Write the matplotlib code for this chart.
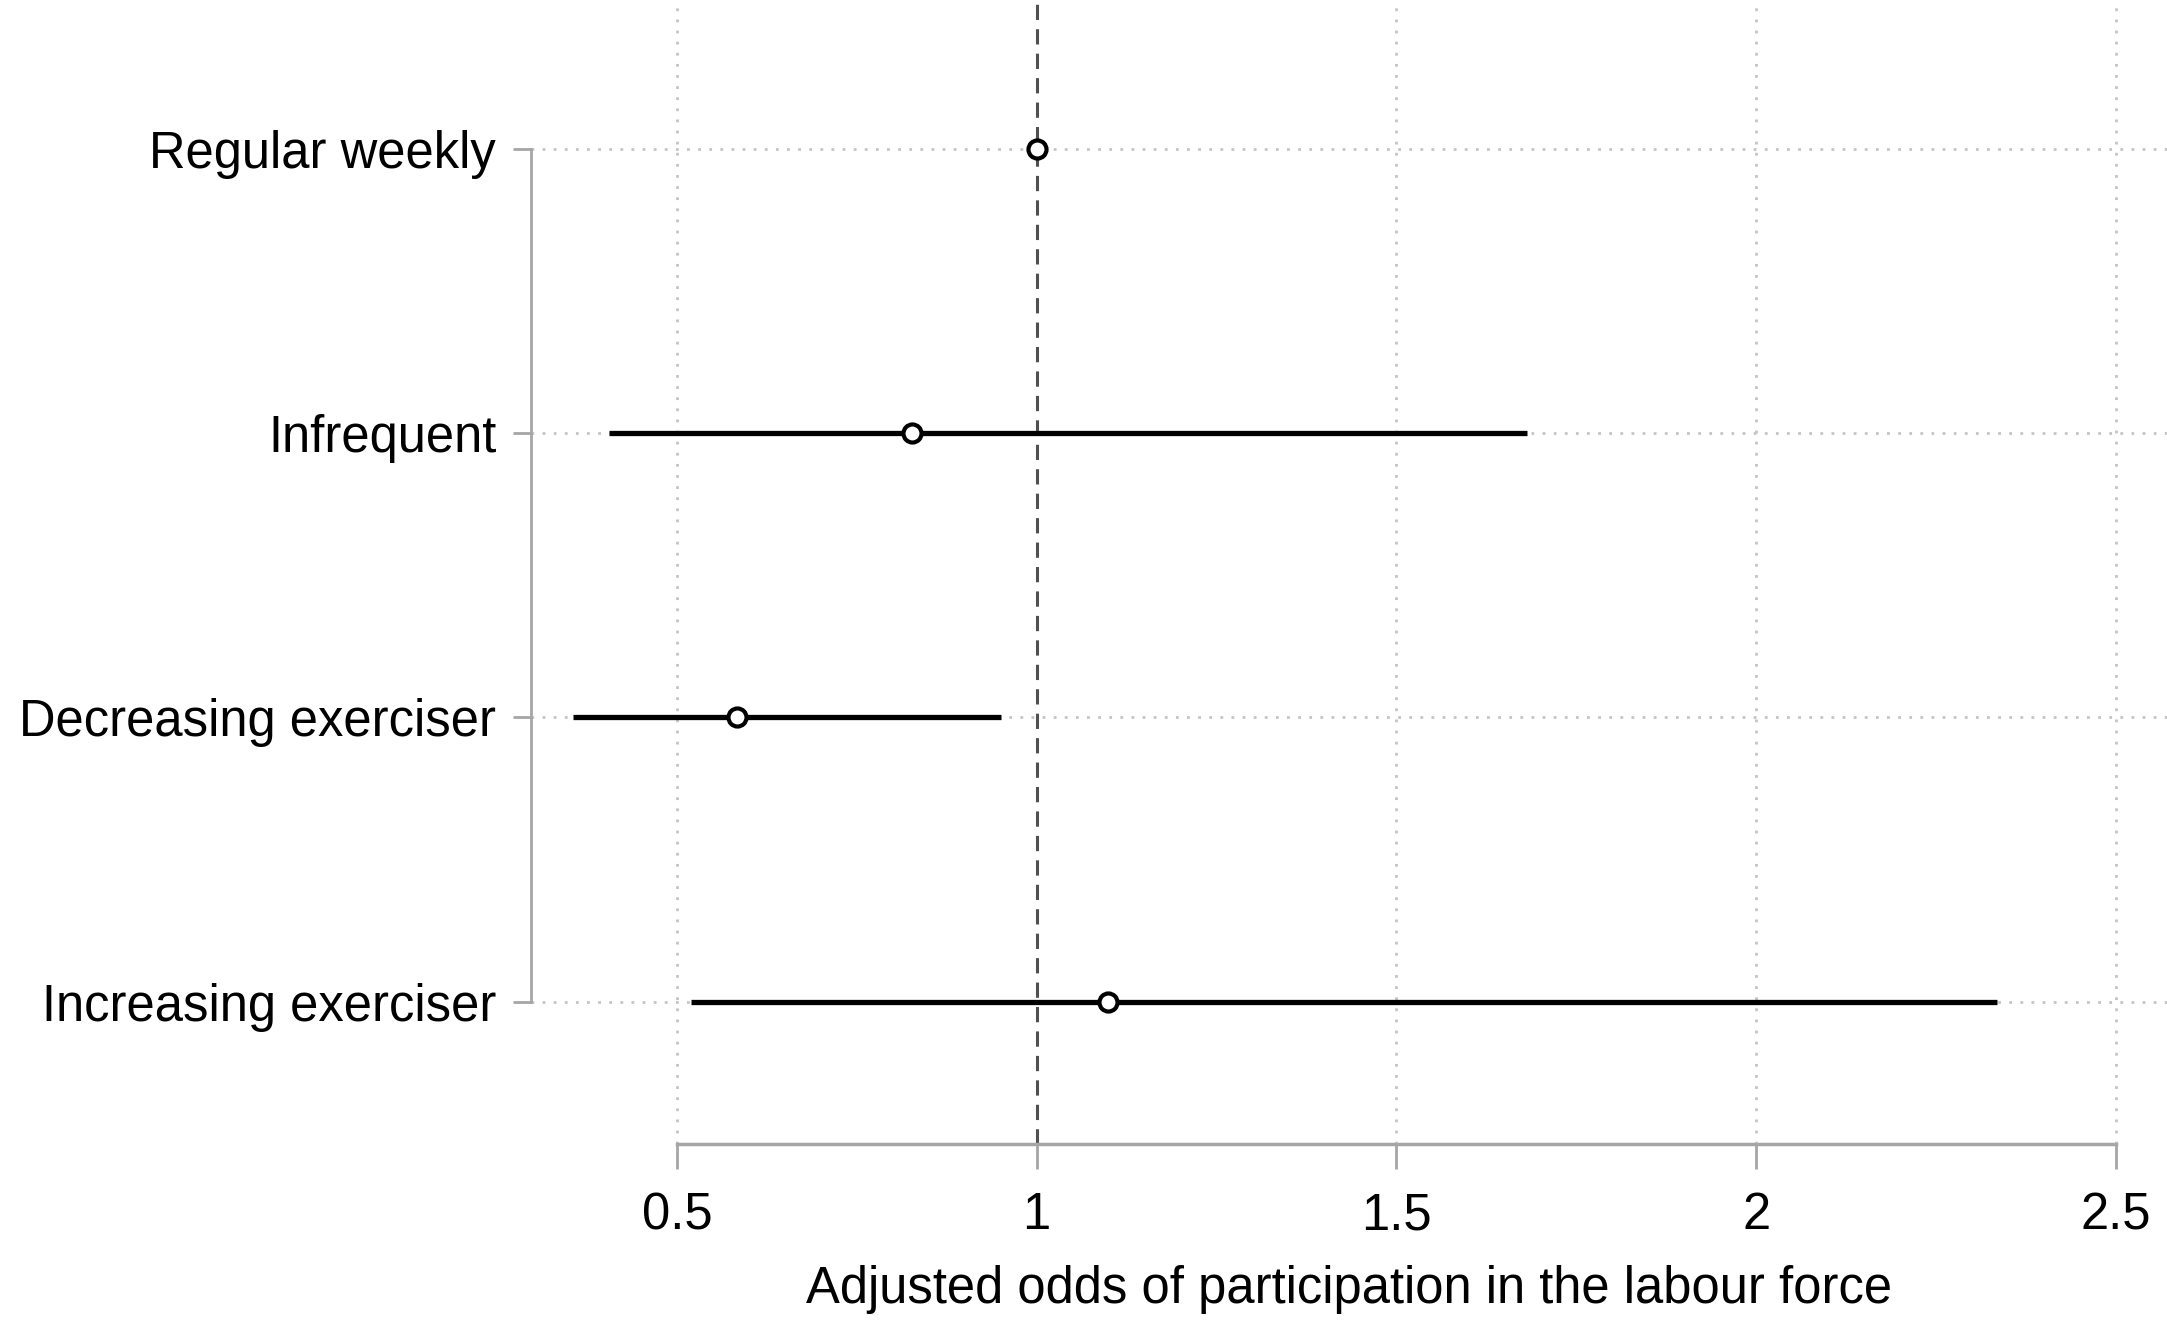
import numpy as np
import matplotlib.pyplot as plt

plt.rcParams['font.family'] = ['Liberation Sans', 'DejaVu Sans']

# data (top to bottom)
groups = ["Regular weekly", "Infrequent", "Decreasing exerciser", "Increasing exerciser"]
odds = [1.0, 0.827, 0.583, 1.099]
ci_low = [np.nan, 0.406, 0.356, 0.519]
ci_high = [np.nan, 1.682, 0.951, 2.335]
xticks = [0.5, 1, 1.5, 2, 2.5]
xticklabels = ["0.5", "1", "1.5", "2", "2.5"]

ypos = np.arange(len(groups))[::-1]

fig = plt.figure(figsize=(21.67, 13.2), dpi=100)
ax = fig.add_axes([0.245, 0.1333, 0.755, 0.8667])

grey = "#a6a6a6"
ax.set_xlim(0.297, 2.571)
ax.set_ylim(-0.5, 3.523)

# grid
for y in ypos:
    ax.axhline(y, color="#c4c4c4", lw=2, ls=(0, (1, 3)), zorder=0)
for x in xticks:
    if x != 1:
        ax.axvline(x, color="#c4c4c4", lw=2, ls=(0, (1, 3)), zorder=0)
ax.axvline(1, color="#505050", lw=2.2, ls=(0, (5, 3)), zorder=1)

for i in range(len(groups)):
    if not np.isnan(ci_low[i]):
        ax.plot([ci_low[i], ci_high[i]], [ypos[i], ypos[i]], color="black", lw=3.8, zorder=2,
                solid_capstyle="butt")
ax.plot(odds, ypos, "o", ms=13, mfc="white", mec="black", mew=3, zorder=3)

ax.set_yticks(ypos)
ax.set_yticklabels(groups)
ax.set_xticks(xticks)
ax.set_xticklabels(xticklabels)

for s in ["top", "right"]:
    ax.spines[s].set_visible(False)
ax.spines["left"].set_bounds(0, 3)
ax.spines["bottom"].set_bounds(0.5, 2.5)
ax.spines["left"].set_color(grey)
ax.spines["bottom"].set_color(grey)
ax.spines["left"].set_linewidth(2)
ax.spines["bottom"].set_linewidth(2.5)

ax.tick_params(axis="y", length=13, width=2, color=grey, labelsize=36.5, pad=12)
ax.tick_params(axis="x", length=18, width=2, color=grey, labelsize=36.5, pad=16)

ax.set_xlabel("Adjusted odds of participation in the labour force", fontsize=36.5, labelpad=18)

fig.savefig("out.png", dpi=100)
